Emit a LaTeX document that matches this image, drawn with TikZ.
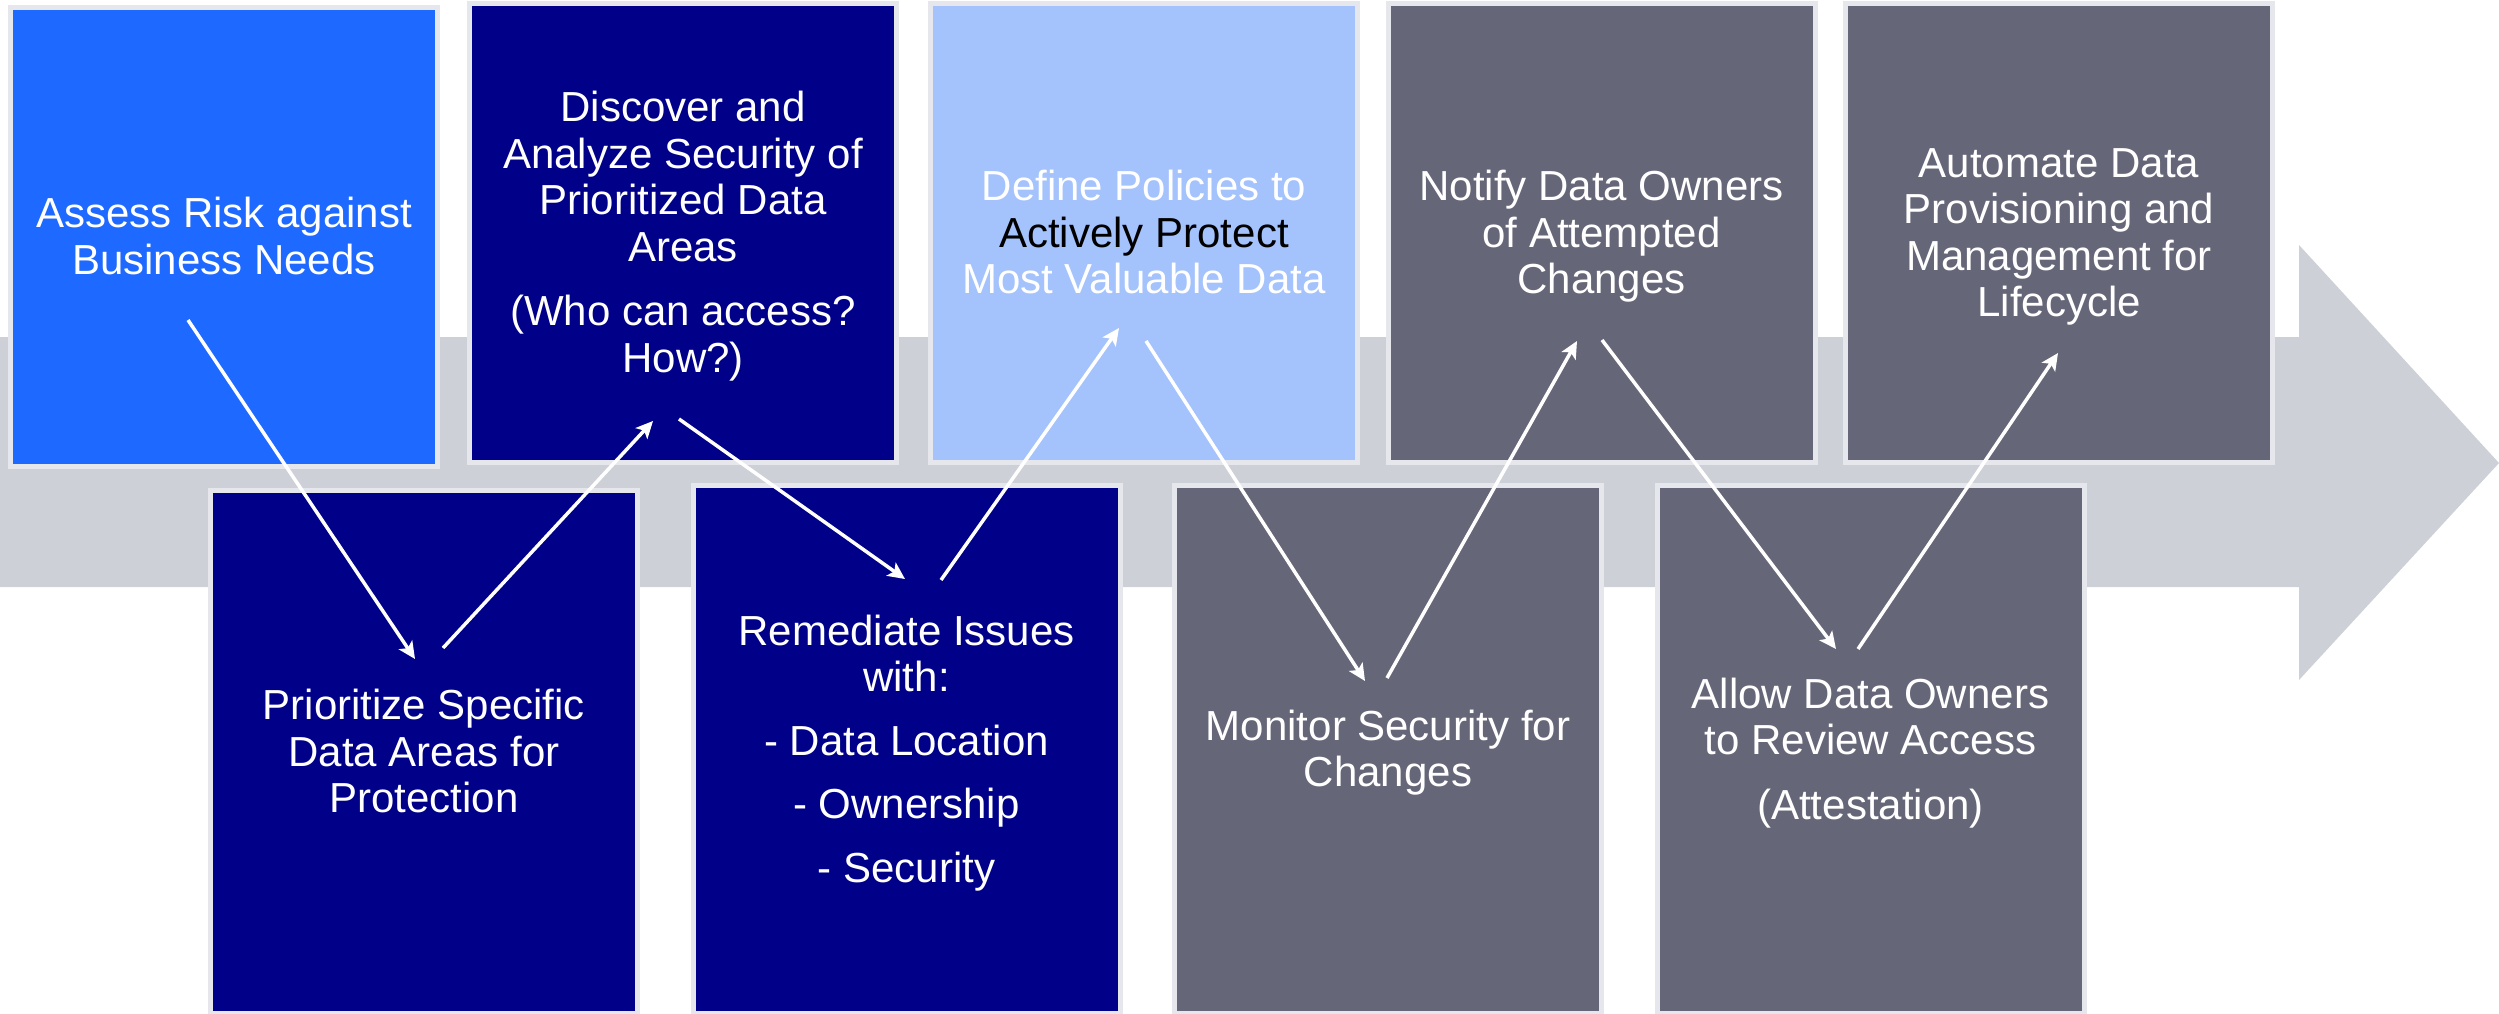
\documentclass[tikz,border=0pt]{standalone}
\usepackage{fontspec}
\setmainfont{Liberation Sans}
\usetikzlibrary{arrows.meta}
\definecolor{bandgray}{HTML}{CDD0D7}
\definecolor{edgegray}{HTML}{E6E7EC}
\definecolor{brightblue}{HTML}{1E69FF}
\definecolor{navyblue}{HTML}{000088}
\definecolor{paleblue}{HTML}{A4C2FC}
\definecolor{slategray}{HTML}{666679}
\newcommand\tstr{\rule{0pt}{38pt}}
\newcommand\bstr{\rule[-10pt]{0pt}{10pt}}
\begin{document}
\begin{tikzpicture}[x=1pt,y=-1pt]
\tikzset{
  stepbox/.style={draw=edgegray, line width=5pt, minimum width=427pt, inner sep=0pt,
    align=center, text=white, font=\fontsize{42}{46.5}\selectfont},
  topbox/.style={stepbox, minimum height=459pt},
  lowbox/.style={stepbox, minimum height=528pt},
  flow/.style={white, line width=3.5pt, -{Stealth[length=17pt,width=16pt,inset=4pt]}},
}
\useasboundingbox (0,0) rectangle (2499,1014);
% big background arrow
\fill[bandgray] (0,337) -- (2299,337) -- (2299,245) -- (2499,463) -- (2299,680)
  -- (2299,587) -- (0,587) -- cycle;
% top row
\node[topbox, fill=brightblue] (assess) at (224,237) {\tstr Assess Risk against\\Business Needs\bstr};
\node[topbox, fill=navyblue] (discover) at (683,233) {\tstr Discover and\\Analyze Security of\\Prioritized Data\\Areas\\[18pt](Who can access?\\How?)\bstr};
\node[topbox, fill=paleblue] (define) at (1144,233) {\tstr Define Policies to\\\textcolor{black}{Actively Protect}\\Most Valuable Data\bstr};
\node[topbox, fill=slategray] (notify) at (1601.5,233) {\tstr Notify Data Owners\\of Attempted\\Changes\bstr};
\node[topbox, fill=slategray] (automate) at (2059,233) {\tstr Automate Data\\Provisioning and\\Management for\\Lifecycle\bstr};
% bottom row
\node[lowbox, fill=navyblue, minimum height=523pt] (prioritize) at (424,752) {\tstr Prioritize Specific\\Data Areas for\\Protection\bstr};
\node[lowbox, fill=navyblue] (remediate) at (906.5,749.5) {\tstr Remediate Issues\\with:\\[17pt]- Data Location\\[17pt]- Ownership\\[17pt]- Security\bstr};
\node[lowbox, fill=slategray] (monitor) at (1388,749.5) {\tstr Monitor Security for\\Changes\bstr};
\node[lowbox, fill=slategray] (allow) at (1870.5,749.5) {\tstr Allow Data Owners\\to Review Access\\[18pt](Attestation)\bstr};
% connector end points
\coordinate (p1s) at (188,320);   \coordinate (p1e) at (415,659);
\coordinate (p2s) at (443,648);   \coordinate (p2e) at (653,421);
\coordinate (p3s) at (679,419);   \coordinate (p3e) at (905,579);
\coordinate (p4s) at (941,580);   \coordinate (p4e) at (1119,328);
\coordinate (p5s) at (1146,341);  \coordinate (p5e) at (1365,681);
\coordinate (p6s) at (1387,678);  \coordinate (p6e) at (1577,341);
\coordinate (p7s) at (1602,340);  \coordinate (p7e) at (1836,649);
\coordinate (p8s) at (1858,649);  \coordinate (p8e) at (2058,353);
\draw[flow] (p1s) -- (p1e);
\draw[flow] (p2s) -- (p2e);
\draw[flow] (p3s) -- (p3e);
\draw[flow] (p4s) -- (p4e);
\draw[flow] (p5s) -- (p5e);
\draw[flow] (p6s) -- (p6e);
\draw[flow] (p7s) -- (p7e);
\draw[flow] (p8s) -- (p8e);
\end{tikzpicture}
\end{document}
